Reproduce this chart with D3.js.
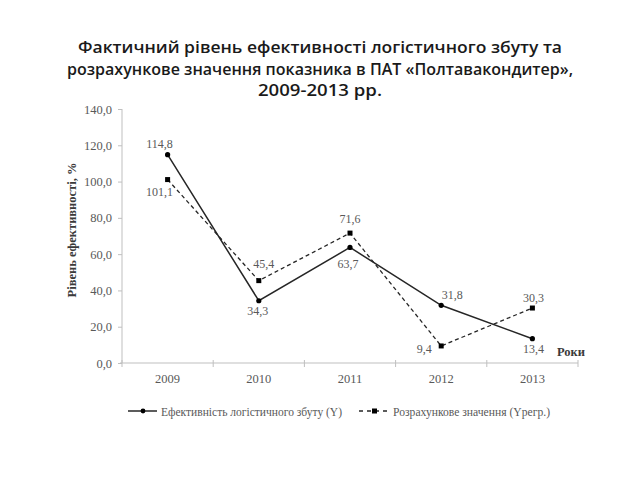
<!DOCTYPE html>
<html>
<head>
<meta charset="utf-8">
<script src="https://cdn.jsdelivr.net/npm/d3@7"></script>
<style>
  html, body { margin: 0; padding: 0; background: #fff; }
  svg { display: block; }
</style>
</head>
<body>
<svg id="chart" width="640" height="480"></svg>
<script>
const titleLines = [
  "Фактичний рівень ефективності логістичного збуту та",
  "розрахункове значення показника в ПАТ «Полтавакондитер»,",
  "2009-2013 рр."
];
const years = ["2009", "2010", "2011", "2012", "2013"];
const actual = [114.8, 34.3, 63.7, 31.8, 13.4];
const regression = [101.1, 45.4, 71.6, 9.4, 30.3];
const yTicks = [0, 20, 40, 60, 80, 100, 120, 140];
const actualName = "Ефективність логістичного збуту (Y)";
const regressionName = "Розрахункове значення (Yрегр.)";
const yAxisTitle = "Рівень ефективності, %";
const xAxisTitle = "Роки";

// label offsets relative to each point (style only, not data)
const actualOffsets = [[-8, -7], [-1, 14], [-2, 21], [11, -6], [1, 14]];
const regressionOffsets = [[-8, 16], [5, -13], [0, -10], [-17, 7], [1, -6]];

const svg = d3.select("#chart");
const fmt = v => v.toFixed(1).replace(".", ",");
const serif = "'Liberation Serif', 'Times New Roman', serif";
const textGray = "#595959";
const axisGray = "#bfbfbf";
const lineCol = "#262626";

// title
svg.append("g").selectAll("text").data(titleLines).join("text")
  .attr("x", 320).attr("y", (d, i) => 53 + i * 21.5)
  .attr("text-anchor", "middle")
  .attr("font-family", "'Open Sans', 'Noto Sans', sans-serif")
  .attr("font-weight", 600)
  .attr("font-size", 16)
  .attr("fill", "#1a1a1a")
  .attr("textLength", (d, i) => [484, 506, 124][i])
  .attr("lengthAdjust", "spacingAndGlyphs")
  .text(d => d);

const x = d3.scaleBand().domain(years).range([122, 578]);
const y = d3.scaleLinear().domain([0, 140]).range([363, 109]);

// y axis
const yAxis = svg.append("g").attr("transform", "translate(122,0)")
  .call(d3.axisLeft(y).tickValues(yTicks).tickSize(4).tickPadding(6).tickFormat(fmt));
yAxis.select(".domain").attr("stroke", axisGray).attr("d", `M0,${y(140)}V${y(0)}`);
yAxis.selectAll(".tick line").attr("stroke", axisGray);
yAxis.selectAll("text").attr("font-family", serif).attr("font-size", 12.5).attr("fill", textGray);

// x axis
const xAxis = svg.append("g").attr("transform", `translate(0,${y(0)})`)
  .call(d3.axisBottom(x).tickSize(0).tickPadding(11));
xAxis.select(".domain").attr("stroke", axisGray).attr("d", `M120,0H578`);
xAxis.selectAll("text").attr("font-family", serif).attr("font-size", 12.5).attr("fill", textGray);
const bounds = years.map(d => x(d)).concat([x(years[years.length - 1]) + x.bandwidth()]);
xAxis.selectAll("line.bt").data(bounds).join("line").attr("class", "bt")
  .attr("x1", d => d).attr("x2", d => d).attr("y1", -3).attr("y2", 4)
  .attr("stroke", axisGray);

const cx = d => x(d) + x.bandwidth() / 2;

// lines
const line = d3.line().x((d, i) => cx(years[i])).y(d => y(d));
svg.append("path").datum(regression).attr("d", line)
  .attr("fill", "none").attr("stroke", lineCol).attr("stroke-width", 1.3)
  .attr("stroke-dasharray", "4,3");
svg.append("path").datum(actual).attr("d", line)
  .attr("fill", "none").attr("stroke", lineCol).attr("stroke-width", 1.5);

// markers
svg.append("g").selectAll("rect").data(regression).join("rect")
  .attr("x", (d, i) => cx(years[i]) - 2.5).attr("y", d => y(d) - 2.5)
  .attr("width", 5).attr("height", 5).attr("fill", "#000");
svg.append("g").selectAll("circle").data(actual).join("circle")
  .attr("cx", (d, i) => cx(years[i])).attr("cy", d => y(d)).attr("r", 2.6)
  .attr("fill", "#000");

// value labels
function labels(values, offsets) {
  svg.append("g").selectAll("text").data(values).join("text")
    .attr("x", (d, i) => cx(years[i]) + offsets[i][0])
    .attr("y", (d, i) => y(d) + offsets[i][1])
    .attr("text-anchor", "middle")
    .attr("font-family", serif).attr("font-size", 12).attr("fill", textGray)
    .text(fmt);
}
labels(actual, actualOffsets);
labels(regression, regressionOffsets);

// axis titles
svg.append("text")
  .attr("transform", `translate(76,${(y(0) + y(140)) / 2 - 6}) rotate(-90)`)
  .attr("text-anchor", "middle")
  .attr("font-family", serif).attr("font-weight", "bold").attr("font-size", 12.5)
  .attr("fill", "#3a3a3a")
  .text(yAxisTitle);
svg.append("text")
  .attr("x", 557).attr("y", 356)
  .attr("font-family", serif).attr("font-weight", "bold").attr("font-size", 12.5)
  .attr("fill", "#3a3a3a")
  .text(xAxisTitle);

// legend
const lg = svg.append("g").attr("transform", "translate(0,411)");
lg.append("line").attr("x1", 128).attr("x2", 157).attr("y1", 0).attr("y2", 0)
  .attr("stroke", lineCol).attr("stroke-width", 1.5);
lg.append("circle").attr("cx", 143).attr("cy", 0).attr("r", 2.4).attr("fill", "#000");
lg.append("text").attr("x", 161).attr("y", 4.5)
  .attr("font-family", serif).attr("font-size", 12).attr("fill", textGray)
  .attr("textLength", 181).attr("lengthAdjust", "spacingAndGlyphs")
  .text(actualName);
lg.append("line").attr("x1", 359).attr("x2", 388).attr("y1", 0).attr("y2", 0)
  .attr("stroke", lineCol).attr("stroke-width", 1.3).attr("stroke-dasharray", "4,4");
lg.append("rect").attr("x", 372).attr("y", -2.5).attr("width", 5).attr("height", 5).attr("fill", "#000");
lg.append("text").attr("x", 393).attr("y", 4.5)
  .attr("font-family", serif).attr("font-size", 12).attr("fill", textGray)
  .attr("textLength", 157).attr("lengthAdjust", "spacingAndGlyphs")
  .text(regressionName);
</script>
</body>
</html>
